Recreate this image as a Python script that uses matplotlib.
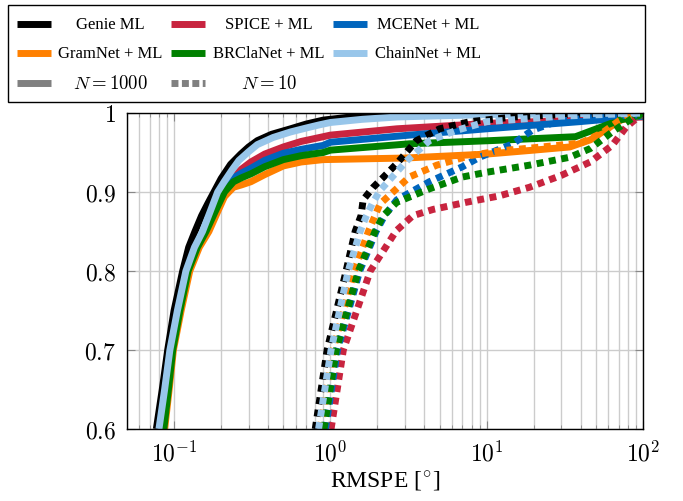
import numpy as np
import matplotlib
matplotlib.use("Agg")
import matplotlib.pyplot as plt
from matplotlib.lines import Line2D
from matplotlib.patches import Rectangle

plt.rcParams['font.family'] = ['Liberation Serif', 'DejaVu Serif']
plt.rcParams['mathtext.fontset'] = 'cm'

# colours of the methods
c_genie = 'black'
c_spice = '#C8243F'
c_mce = '#0065BD'
c_gram = '#FF8000'
c_brcla = '#008000'
c_chain = '#98C6EA'

# ---- N = 1000 (solid) ----
genie_x = [0.077, 0.084, 0.091, 0.10, 0.1135, 0.124, 0.136, 0.150, 0.164, 0.18, 0.20, 0.23, 0.267,
           0.30, 0.341, 0.42, 0.556, 0.70, 0.90, 1.5, 2.6, 100]
genie_y = [0.6, 0.65, 0.7, 0.75, 0.8, 0.83, 0.85, 0.87, 0.885, 0.9, 0.917, 0.935, 0.948,
           0.957, 0.965, 0.973, 0.980, 0.986, 0.991, 0.996, 0.999, 1.0]
spice_x = [0.085, 0.091, 0.097, 0.108, 0.122, 0.14, 0.158, 0.18, 0.205, 0.22, 0.24, 0.27, 0.31,
           0.38, 0.5, 0.65, 0.9, 1.0, 2.66, 10.5, 40, 100]
spice_y = [0.6, 0.65, 0.7, 0.75, 0.8, 0.83, 0.85, 0.875, 0.9, 0.91, 0.919, 0.929, 0.938,
           0.948, 0.957, 0.964, 0.970, 0.972, 0.980, 0.987, 0.991, 0.995]
mce_x = [0.085, 0.091, 0.097, 0.108, 0.122, 0.14, 0.158, 0.18, 0.21, 0.24, 0.27, 0.31, 0.38,
         0.5, 0.65, 0.9, 1.0, 3.2, 10, 39, 100]
mce_y = [0.6, 0.65, 0.7, 0.75, 0.8, 0.83, 0.85, 0.875, 0.902, 0.918, 0.924, 0.930, 0.940,
         0.949, 0.954, 0.959, 0.963, 0.972, 0.980, 0.989, 0.996]
gram_x = [0.087, 0.093, 0.099, 0.111, 0.126, 0.145, 0.167, 0.19, 0.21, 0.224, 0.24, 0.27, 0.31,
          0.38, 0.5, 0.65, 0.9, 3.0, 10, 20, 34, 46, 72, 100]
gram_y = [0.6, 0.65, 0.7, 0.75, 0.8, 0.83, 0.85, 0.875, 0.894, 0.9, 0.906, 0.909, 0.913,
          0.922, 0.933, 0.938, 0.941, 0.943, 0.948, 0.953, 0.957, 0.966, 0.991, 0.998]
brcla_x = [0.086, 0.092, 0.098, 0.109, 0.123, 0.141, 0.16, 0.183, 0.21, 0.24, 0.27, 0.31, 0.38,
           0.5, 0.65, 0.9, 1.0, 3.2, 10.5, 37, 71, 100]
brcla_y = [0.6, 0.65, 0.7, 0.75, 0.8, 0.83, 0.85, 0.875, 0.90, 0.913, 0.918, 0.923, 0.932,
           0.941, 0.946, 0.950, 0.953, 0.961, 0.965, 0.970, 0.991, 0.998]
chain_x = [0.080, 0.087, 0.094, 0.105, 0.119, 0.135, 0.152, 0.17, 0.19, 0.209, 0.235, 0.26, 0.30,
           0.341, 0.43, 0.556, 0.70, 0.85, 1.0, 1.6, 2.7, 10, 30, 100]
chain_y = [0.6, 0.65, 0.7, 0.75, 0.8, 0.83, 0.85, 0.875, 0.9, 0.913, 0.928, 0.94, 0.951,
           0.960, 0.969, 0.976, 0.981, 0.985, 0.988, 0.992, 0.995, 0.998, 0.999, 1.0]

# ---- N = 10 (dotted) ----
genie10_x = [0.80, 0.953, 1.26, 1.44, 1.57, 1.62, 1.88, 2.19, 2.66, 3.55, 5.0, 7.8, 15, 30, 100]
genie10_y = [0.6, 0.7, 0.8, 0.85, 0.87, 0.89, 0.906, 0.919, 0.936, 0.965, 0.980, 0.989, 0.995, 0.998, 1.0]
spice10_x = [1.01, 1.21, 1.80, 2.64, 3.37, 4.55, 7.4, 12, 18.8, 30, 46, 63.5, 78, 100]
spice10_y = [0.6, 0.7, 0.8, 0.851, 0.870, 0.878, 0.887, 0.895, 0.906, 0.921, 0.938, 0.959, 0.982, 1.0]
mce10_x = [0.93, 1.11, 1.54, 1.96, 2.22, 2.66, 4.3, 7.0, 9, 14.7, 19.5, 27.8, 50, 100]
mce10_y = [0.6, 0.7, 0.8, 0.85, 0.87, 0.89, 0.913, 0.932, 0.944, 0.961, 0.978, 0.989, 0.995, 0.998]
gram10_x = [0.86, 1.04, 1.42, 1.75, 1.93, 2.08, 3.2, 4.8, 7.8, 12, 20, 40, 55, 70, 90]
gram10_y = [0.6, 0.7, 0.8, 0.85, 0.87, 0.885, 0.919, 0.934, 0.946, 0.952, 0.956, 0.962, 0.975, 0.99, 1.0]
brcla10_x = [0.91, 1.09, 1.51, 1.93, 2.18, 2.66, 4.3, 7.0, 10, 18.8, 34, 46, 63.5, 85, 100]
brcla10_y = [0.6, 0.7, 0.8, 0.85, 0.87, 0.887, 0.904, 0.919, 0.925, 0.934, 0.944, 0.955, 0.976, 0.993, 1.0]
chain10_x = [0.84, 1.01, 1.30, 1.55, 1.7, 1.85, 2.08, 3.1, 4.3, 6.4, 10, 30, 100]
chain10_y = [0.6, 0.7, 0.8, 0.85, 0.87, 0.885, 0.902, 0.940, 0.965, 0.978, 0.989, 0.996, 1.0]

solid = [(genie_x, genie_y, c_genie), (spice_x, spice_y, c_spice), (mce_x, mce_y, c_mce),
         (gram_x, gram_y, c_gram), (brcla_x, brcla_y, c_brcla), (chain_x, chain_y, c_chain)]
dotted = [(genie10_x, genie10_y, c_genie), (spice10_x, spice10_y, c_spice), (mce10_x, mce10_y, c_mce),
          (gram10_x, gram10_y, c_gram), (brcla10_x, brcla10_y, c_brcla), (chain10_x, chain10_y, c_chain)]

lw = 5
dot_style = (0, (1, 0.8))

fig = plt.figure(figsize=(6.83, 5.02), dpi=100)
ax = fig.add_axes([0.186, 0.1434, 0.7554, 0.6295])

for x, y, c in solid:
    ax.plot(x, y, color=c, lw=lw, solid_capstyle='butt', solid_joinstyle='round')
for x, y, c in dotted:
    ax.plot(x, y, color=c, lw=lw, linestyle=dot_style, dash_capstyle='butt')

ax.set_xscale('log')
ax.set_xlim(0.05, 100)
ax.set_ylim(0.6, 1.0)
ax.set_yticks([0.6, 0.7, 0.8, 0.9, 1.0])
ax.set_yticklabels([r'$0.6$', r'$0.7$', r'$0.8$', r'$0.9$', r'$1$'])
ax.set_xticks([0.1, 1, 10, 100])
ax.set_xticklabels([r'$10^{-1}$', r'$10^{0}$', r'$10^{1}$', r'$10^{2}$'])
ax.grid(True, which='major', color='#cccccc', lw=1)
ax.grid(True, which='minor', axis='x', color='#cccccc', lw=1)
ax.set_axisbelow(True)
ax.tick_params(which='both', direction='in', top=True, right=True, color='#888888')
ax.tick_params(which='major', length=6, labelsize=17, pad=8)
ax.tick_params(which='minor', length=3)
for s in ax.spines.values():
    s.set_linewidth(1)
ax.set_xlabel(r'RMSPE [$^{\circ}$]', fontsize=17, labelpad=2)

# legend drawn in figure coordinates
W, H = 683.0, 502.0
fig.add_artist(Rectangle((8 / W, 1 - 103 / H), (645 - 8) / W, 97 / H, transform=fig.transFigure,
                         fill=False, edgecolor='black', lw=1))
entries = [
    (0, 0, c_genie, '-', 'Genie ML'), (1, 0, c_spice, '-', 'SPICE + ML'), (2, 0, c_mce, '-', 'MCENet + ML'),
    (0, 1, c_gram, '-', 'GramNet + ML'), (1, 1, c_brcla, '-', 'BRClaNet + ML'), (2, 1, c_chain, '-', 'ChainNet + ML'),
    (0, 2, 'gray', '-', r'$N = 1000$'), (1, 2, 'gray', (0, (1, 0.5)), r'$N = 10$'),
]
col_h = [17, 171, 333]
col_t = [110, 269, 428]
row_y = [25, 54, 84]
for ci, ri, c, ls, lab in entries:
    yy = 1 - row_y[ri] / H
    fig.add_artist(Line2D([col_h[ci] / W, (col_h[ci] + 34) / W], [yy, yy], transform=fig.transFigure,
                          color=c, lw=lw, linestyle=ls, solid_capstyle='butt', dash_capstyle='butt'))
    fs = 13.5 if lab.startswith('$') else 12
    fig.text(col_t[ci] / W, yy, lab, ha='center', va='center', fontsize=fs)

fig.savefig('out.png', dpi=100)
